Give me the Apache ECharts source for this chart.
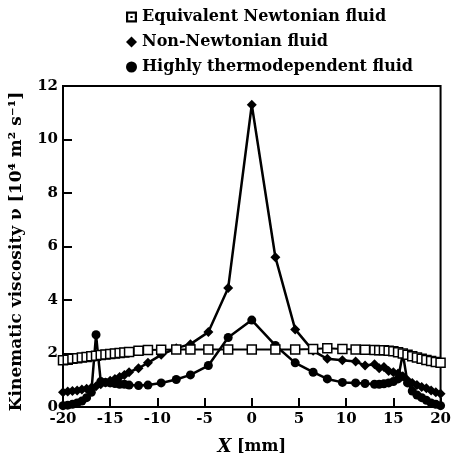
<!DOCTYPE html>
<html>
<head>
<meta charset="utf-8">
<script src="https://cdn.jsdelivr.net/npm/echarts@6/dist/echarts.min.js"></script>
<style>
  html, body { margin: 0; padding: 0; background: #fff; }
  #chart { width: 454px; height: 461px; }
</style>
</head>
<body>
<div id="chart"></div>
<script>
  // X positions [mm], shared by all three profiles (finer near the walls)
  var xPos = [-20, -19.5, -19, -18.5, -18, -17.5, -17, -16.5, -16, -15.5, -15, -14.5, -14, -13.5, -13, -12, -11,
    -9.6, -8, -6.5, -4.6, -2.5, 0, 2.5, 4.6, 6.5, 8, 9.6,
    11, 12, 13, 13.5, 14, 14.5, 15, 15.5, 16, 16.5, 17, 17.5, 18, 18.5, 19, 19.5, 20];

  var newtonian = [1.75, 1.77, 1.8, 1.82, 1.85, 1.87, 1.9, 1.92, 1.94, 1.96, 1.98, 2.0, 2.02, 2.04, 2.06, 2.1, 2.13,
    2.14, 2.15, 2.15, 2.15, 2.15, 2.15, 2.15, 2.15, 2.17, 2.2, 2.17,
    2.15, 2.14, 2.13, 2.12, 2.12, 2.1, 2.08, 2.05, 2.0, 1.95, 1.9, 1.85, 1.8, 1.76, 1.72, 1.68, 1.65];

  var nonNewtonian = [0.55, 0.58, 0.6, 0.62, 0.65, 0.68, 0.72, 0.78, 0.85, 0.92, 0.98, 1.05, 1.12, 1.2, 1.3, 1.45, 1.65,
    1.95, 2.2, 2.35, 2.8, 4.45, 11.3, 5.6, 2.9, 2.1, 1.8, 1.75,
    1.7, 1.55, 1.6, 1.45, 1.5, 1.35, 1.3, 1.25, 1.15, 1.0, 0.9, 0.82, 0.75, 0.7, 0.62, 0.55, 0.5];

  var thermo = [0.05, 0.07, 0.1, 0.15, 0.22, 0.35, 0.55, 2.7, 0.95, 0.92, 0.9, 0.88, 0.85, 0.85, 0.82, 0.8, 0.82,
    0.9, 1.03, 1.2, 1.55, 2.6, 3.25, 2.3, 1.65, 1.3, 1.05, 0.92,
    0.9, 0.88, 0.85, 0.85, 0.87, 0.9, 0.95, 1.05, 2.0, 0.9, 0.6, 0.45, 0.35, 0.25, 0.15, 0.1, 0.05];

  var seriesNames = ['Equivalent Newtonian fluid', 'Non-Newtonian fluid', 'Highly thermodependent fluid'];

  function pairs(ys) {
    return xPos.map(function (x, i) { return [x, ys[i]]; });
  }

  var font = 'DejaVu Serif';
  var ringIcon = 'path://M0,0H10V10H0Z M2,2V8H8V2Z M4,4H6V6H4Z';

  var chart = echarts.init(document.getElementById('chart'));
  chart.setOption({
    backgroundColor: '#fff',
    animation: false,
    legend: {
      orient: 'vertical',
      left: 121,
      top: 4,
      itemGap: 9,
      itemWidth: 11,
      itemHeight: 11,
      textStyle: { fontFamily: font, fontWeight: 'bold', fontSize: 16, color: '#000' },
      data: [
        { name: seriesNames[0], icon: ringIcon, itemStyle: { color: '#000', borderWidth: 0 } },
        { name: seriesNames[1], icon: 'diamond', itemStyle: { color: '#000' } },
        { name: seriesNames[2], icon: 'circle', itemStyle: { color: '#000' } }
      ]
    },
    grid: {
      left: 63, right: 9, top: 86, bottom: 47,
      show: true, borderColor: '#000', borderWidth: 2
    },
    xAxis: {
      type: 'value',
      min: -20, max: 20, interval: 5,
      name: '{i|X} [mm]',
      nameLocation: 'middle',
      nameGap: 31,
      nameTextStyle: {
        fontFamily: font, fontWeight: 'bold', fontSize: 16, color: '#000',
        rich: { i: { fontFamily: font, fontWeight: 'bold', fontStyle: 'italic', fontSize: 18, color: '#000' } }
      },
      axisLine: { onZero: false, lineStyle: { color: '#000', width: 2 } },
      axisTick: { inside: true, length: 9, lineStyle: { color: '#000', width: 2 } },
      axisLabel: { fontFamily: font, fontWeight: 'bold', fontSize: 15, color: '#000', margin: 5 },
      splitLine: { show: false }
    },
    yAxis: {
      type: 'value',
      min: 0, max: 12, interval: 2,
      name: 'Kinematic viscosity ν [10⁴ m² s⁻¹]',
      nameLocation: 'middle',
      nameGap: 38,
      nameTextStyle: { fontFamily: font, fontWeight: 'bold', fontSize: 17, color: '#000', padding: [0, 10, 0, 0] },
      axisLine: { onZero: false, lineStyle: { color: '#000', width: 2 } },
      axisTick: { inside: true, length: 9, lineStyle: { color: '#000', width: 2 } },
      axisLabel: { fontFamily: font, fontWeight: 'bold', fontSize: 15, color: '#000', margin: 5 },
      splitLine: { show: false }
    },
    series: [
      {
        name: seriesNames[1],
        type: 'line',
        data: pairs(nonNewtonian),
        symbol: 'diamond',
        symbolSize: 10,
        itemStyle: { color: '#000' },
        lineStyle: { color: '#000', width: 2.5 },
        z: 2
      },
      {
        name: seriesNames[2],
        type: 'line',
        data: pairs(thermo),
        symbol: 'circle',
        symbolSize: 9,
        itemStyle: { color: '#000' },
        lineStyle: { color: '#000', width: 2.5 },
        z: 3
      },
      {
        name: seriesNames[0],
        type: 'line',
        data: pairs(newtonian),
        symbol: 'rect',
        symbolSize: 9,
        itemStyle: { color: '#fff', borderColor: '#000', borderWidth: 1.5 },
        lineStyle: { color: '#000', width: 2 },
        z: 4
      }
    ]
  });
</script>
</body>
</html>
